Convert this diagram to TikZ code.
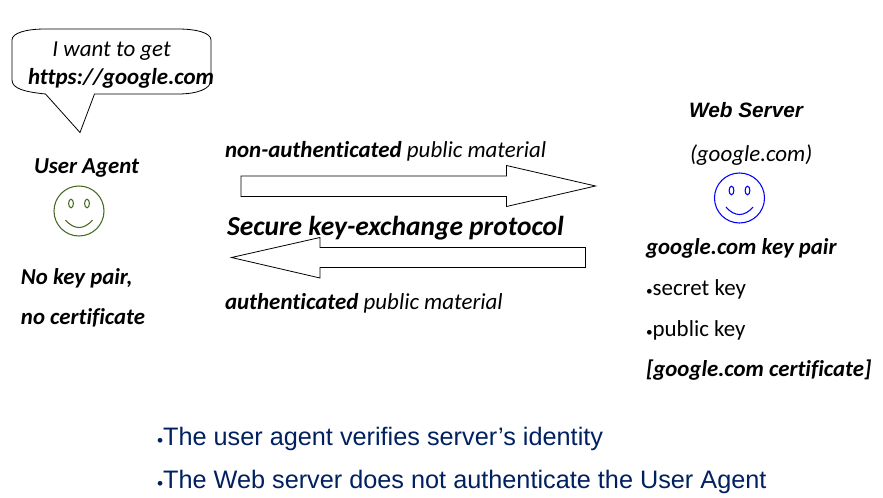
\documentclass[tikz,border=0pt]{standalone}
\usepackage{fontspec}
\setmainfont[Ligatures=NoCommon]{Carlito}
\newfontfamily\arialfont{Liberation Sans}
\definecolor{agentgreen}{RGB}{70,105,35}
\definecolor{notenavy}{RGB}{0,32,96}
\newcommand{\dotmark}{{\fontsize{10}{10}\selectfont\raisebox{-0.3pt}{•}}}
\newcommand{\bigdotmark}{{\fontsize{13}{13}\selectfont\raisebox{-0.6pt}{•}}}
\tikzset{
  txt/.style={anchor=base west,inner sep=0pt,outer sep=0pt,font=\fontsize{17.2}{20}\selectfont},
  smallhead/.style={txt,font=\fontsize{17.1}{20}\selectfont\bfseries\itshape},
  note/.style={anchor=base west,inner sep=0pt,outer sep=0pt,text=notenavy,font=\arialfont\fontsize{18.95}{22}\selectfont},
  outline/.style={draw=black,line width=0.6pt,line join=miter},
}
\newcommand{\smiley}[2]{%
  \draw[#2,line width=0.8pt] (#1) circle (25);
  \draw[#2,line width=0.8pt] ($(#1)+(-8,-7.5)$) ellipse (2.4 and 4.3);
  \draw[#2,line width=0.8pt] ($(#1)+(8,-7.5)$) ellipse (2.4 and 4.3);
  \draw[#2,line width=0.8pt] ($(#1)+(-13.5,9)$) .. controls ($(#1)+(-5,19)$) and ($(#1)+(5,19)$) .. ($(#1)+(13.5,9)$);
}
\usetikzlibrary{calc}
\begin{document}
\begin{tikzpicture}[x=0.75pt,y=-0.75pt]
\useasboundingbox (0,0) rectangle (883,497);
% speech bubble
\draw[outline] (45.5,94) .. controls (26,92) and (12,89) .. (12,80) -- (12,40)
  .. controls (12,33) and (26,29) .. (45,29) -- (178,29)
  .. controls (197,29) and (211,33) .. (211,40) -- (211,80)
  .. controls (211,89) and (197,94) .. (178,94) -- (94.5,94) -- (80,132.5) -- cycle;
\node[txt] (want) at (52.5,56.5) {\itshape I want to get};
\node[txt] (url) at (28,84) {\bfseries\itshape https://google.com};
% user agent
\node[smallhead] (agent) at (34,173.5) {User Agent};
\coordinate (agentface) at (79,211);
\smiley{agentface}{agentgreen}
\node[smallhead] (nokey) at (21,284.5) {No key pair,};
\node[smallhead] (nocert) at (21,324.5) {no certificate};
% arrows
\node[txt] (nonauth) at (225,157.5) {\bfseries\itshape non-authenticated \mdseries public material};
\draw[outline] (241,176) -- (506.5,176) -- (506.5,165.5) -- (595.5,186) -- (506.5,206.5) -- (506.5,196.5) -- (241,196.5) -- cycle;
\node[txt,font=\fontsize{20.6}{24}\selectfont\bfseries\itshape] (secure) at (227,235.5) {Secure key-exchange protocol};
\draw[outline] (585.5,247.5) -- (320,247.5) -- (320,237.5) -- (231.5,257.5) -- (320,278) -- (320,267.5) -- (585.5,267.5) -- cycle;
\node[txt] (auth) at (225,309.5) {\bfseries\itshape authenticated \mdseries public material};
% web server
\node[txt,font=\arialfont\fontsize{15.6}{18}\selectfont\bfseries\itshape] (server) at (689,117) {Web Server};
\node[txt,font=\fontsize{17.2}{20}\selectfont\itshape] (domain) at (690,161.5) {(google.com)};
\coordinate (serverface) at (739.5,198);
\smiley{serverface}{blue}
\node[smallhead] (pair) at (646,254.5) {google.com key pair};
\node[txt] (secret) at (646,295.5) {\dotmark secret key};
\node[txt] (public) at (646,336.5) {\dotmark public key};
\node[smallhead] (cert) at (646,376.5) {[google.com certificate]};
% notes
\node[note] (verify) at (157,445.5) {\bigdotmark The user agent verifies server’s identity};
\node[note] (noauth) at (157,488.5) {\bigdotmark The Web server does not authenticate the User Agent};
\end{tikzpicture}
\end{document}
